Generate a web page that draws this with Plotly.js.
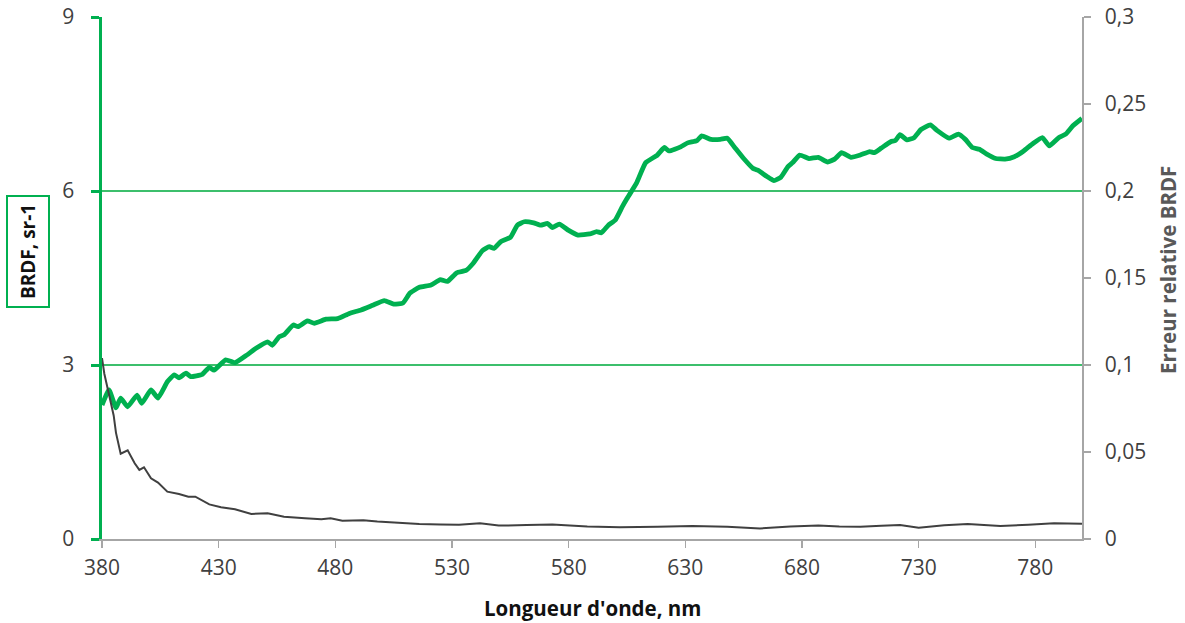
<!DOCTYPE html>
<html>
<head>
<meta charset="utf-8">
<script src="https://cdn.plot.ly/plotly-3.0.1.min.js"></script>
<style>
  html, body { margin: 0; padding: 0; background: #ffffff; }
  #chart { width: 1185px; height: 623px; }
</style>
</head>
<body>
<div id="chart"></div>
<script>
// BRDF (left axis, sr-1)
const brdfWavelength = [380,383,386,388,391,395,397,401,404,408,411,413,416,418,423,426,428,433,437,442,446,451,453,456,458,462,464,468,471,476,481,486,491,496,501,505,509,512,516,521,525,528,532,536,539,543,546,548,551,555,558,561,565,568,571,573,576,580,584,589,592,594,597,600,603,605,609,613,618,621,623,628,631,635,637,641,645,648,651,655,659,661,665,668,671,674,676,679,683,687,691,694,697,701,705,709,711,714,718,720,722,725,728,731,735,738,743,747,750,753,756,759,763,767,771,775,779,783,786,790,793,796,800];
const brdfValue = [2.31,2.57,2.26,2.43,2.28,2.48,2.34,2.57,2.43,2.71,2.83,2.78,2.86,2.80,2.84,2.96,2.91,3.09,3.04,3.17,3.29,3.40,3.34,3.49,3.52,3.69,3.66,3.76,3.72,3.79,3.80,3.89,3.95,4.03,4.11,4.05,4.07,4.24,4.34,4.38,4.47,4.44,4.59,4.63,4.75,4.97,5.04,5.01,5.13,5.20,5.41,5.47,5.45,5.41,5.44,5.37,5.43,5.32,5.24,5.26,5.30,5.28,5.41,5.50,5.73,5.87,6.13,6.49,6.62,6.75,6.69,6.76,6.83,6.87,6.95,6.89,6.89,6.91,6.76,6.56,6.39,6.36,6.25,6.18,6.24,6.42,6.49,6.62,6.56,6.58,6.50,6.55,6.66,6.58,6.62,6.68,6.66,6.74,6.85,6.87,6.97,6.88,6.92,7.06,7.14,7.04,6.91,6.98,6.89,6.75,6.72,6.64,6.56,6.55,6.59,6.69,6.82,6.92,6.78,6.92,6.98,7.12,7.25];

// Relative error (right axis)
const errWavelength = [380,381,383,385,386,388,391,394,396,398,401,404,408,413,417,420,426,431,437,444,451,458,467,474,478,483,492,498,507,516,525,533,542,550,562,573,588,602,618,633,648,662,675,687,696,705,714,722,730,741,751,765,777,788,800];
const errValue = [0.104,0.095,0.083,0.071,0.061,0.049,0.051,0.0435,0.0397,0.0412,0.0349,0.0324,0.0272,0.0259,0.0243,0.0243,0.0199,0.0182,0.0171,0.0144,0.0148,0.0128,0.0119,0.0113,0.0119,0.0105,0.0108,0.0100,0.0094,0.0086,0.0084,0.0082,0.0090,0.0077,0.0080,0.0084,0.0072,0.0067,0.0071,0.0075,0.0070,0.0061,0.0072,0.0077,0.0072,0.0071,0.0076,0.0080,0.0065,0.0079,0.0086,0.0075,0.0082,0.0090,0.0088];

// Tick labels
const xTickVals = [380,430,480,530,580,630,680,730,780];
const yLeftTickVals = [0,3,6,9];
const yRightTickVals = [0,0.05,0.1,0.15,0.2,0.25,0.3];
const yRightTickText = ["0","0,05","0,1","0,15","0,2","0,25","0,3"];

const FONT = "Open Sans, Lato, sans-serif";
const GREEN = "#00b050";
const TICKSIZE = 21;

const traces = [
  {
    x: brdfWavelength, y: brdfValue, type: "scatter", mode: "lines",
    line: { color: GREEN, width: 4.8, shape: "spline", smoothing: 0.4 }, yaxis: "y", hoverinfo: "skip"
  },
  {
    x: errWavelength, y: errValue, type: "scatter", mode: "lines",
    line: { color: "#404040", width: 2 }, yaxis: "y2", hoverinfo: "skip"
  }
];

const layout = {
  width: 1185, height: 623,
  margin: { l: 102, r: 103, t: 17, b: 84 },
  paper_bgcolor: "#ffffff", plot_bgcolor: "#ffffff",
  showlegend: false,
  font: { family: FONT, color: "#404040", size: TICKSIZE },
  xaxis: {
    range: [380, 800], tickvals: xTickVals,
    ticks: "outside", ticklen: 7, tickwidth: 1.5, tickcolor: "#a6a6a6",
    showline: true, linecolor: "#a6a6a6", linewidth: 1.5,
    showgrid: false, zeroline: false,
    tickfont: { family: FONT, size: TICKSIZE, color: "#404040" },
    ticklabelstandoff: 2
  },
  yaxis: {
    range: [0, 9], tickvals: yLeftTickVals,
    ticks: "outside", ticklen: 8, tickwidth: 3, tickcolor: GREEN,
    showline: true, linecolor: GREEN, linewidth: 3.5,
    showgrid: true, gridcolor: "#3cbf6c", gridwidth: 1.3,
    zeroline: false,
    tickfont: { family: FONT, size: TICKSIZE, color: "#404040" },
    ticklabelstandoff: 12
  },
  yaxis2: {
    overlaying: "y", side: "right", anchor: "x",
    range: [0, 0.3], tickvals: yRightTickVals, ticktext: yRightTickText,
    ticks: "outside", ticklen: 7, tickwidth: 1.5, tickcolor: "#a6a6a6",
    showline: true, linecolor: "#a6a6a6", linewidth: 1.5,
    showgrid: false, zeroline: false,
    tickfont: { family: FONT, size: TICKSIZE, color: "#404040" },
    ticklabelstandoff: 10
  },
  annotations: [
    {
      text: "<b>Longueur d'onde, nm</b>", xref: "paper", yref: "paper",
      x: 0.5, y: 0, yshift: -69, xanchor: "center", yanchor: "middle",
      showarrow: false, font: { family: FONT, size: 20.5, color: "#111111" }
    },
    {
      text: "<b>BRDF, sr-1</b>", xref: "paper", yref: "paper",
      x: 0, xshift: -74, y: 0.5, yshift: 26, xanchor: "center", yanchor: "middle",
      textangle: -90, showarrow: false,
      bordercolor: GREEN, borderwidth: 2, borderpad: 7, bgcolor: "#ffffff",
      font: { family: FONT, size: 19, color: "#111111" }
    },
    {
      text: "<b>Erreur relative BRDF</b>", xref: "paper", yref: "paper",
      x: 1, xshift: 86, y: 0.5, yshift: 8, xanchor: "center", yanchor: "middle",
      textangle: -90, showarrow: false,
      font: { family: FONT, size: 20.5, color: "#595959" }
    }
  ]
};

Plotly.newPlot("chart", traces, layout, { staticPlot: true, displayModeBar: false });
</script>
</body>
</html>
